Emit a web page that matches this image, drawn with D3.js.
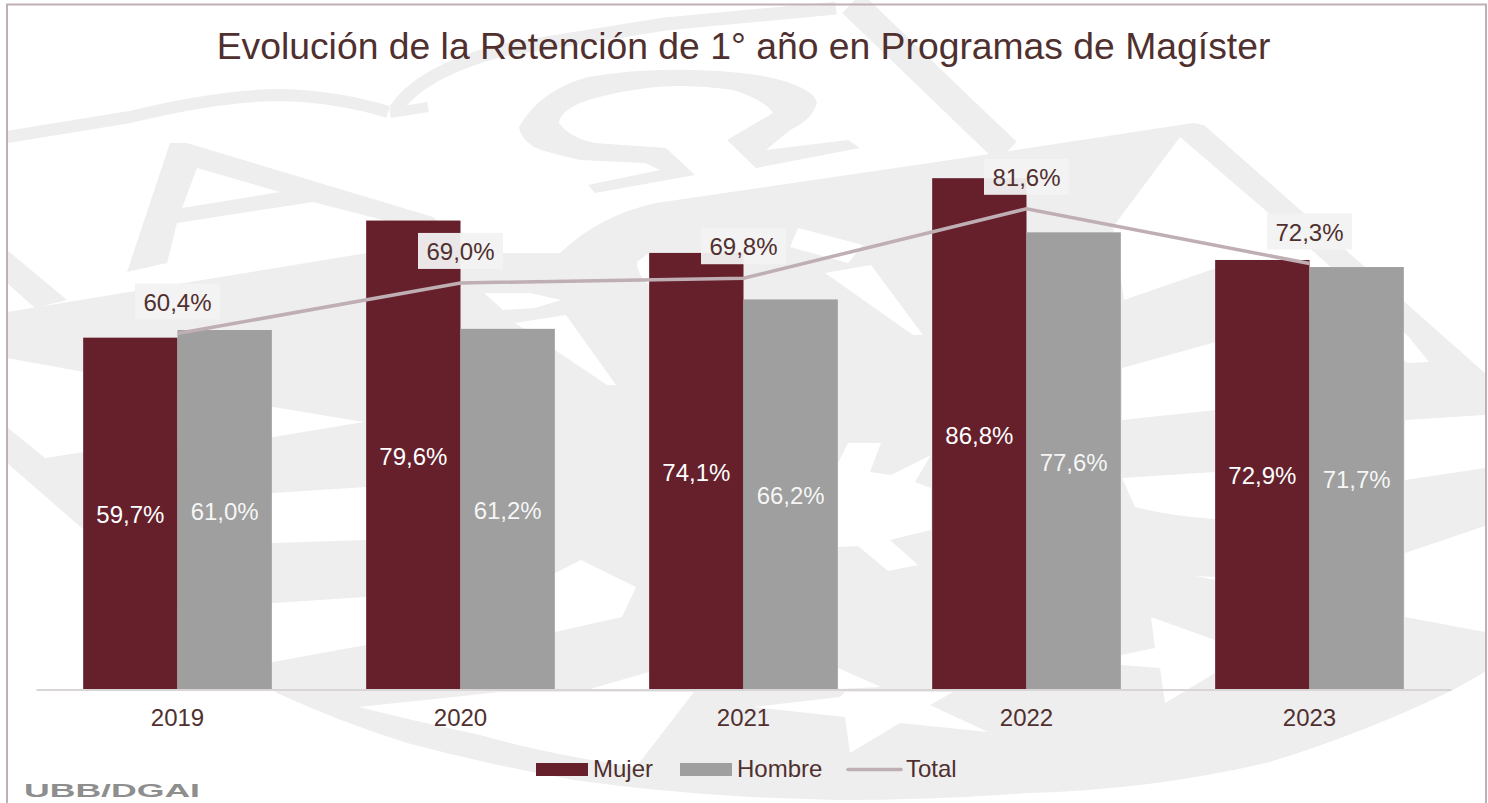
<!DOCTYPE html>
<html><head><meta charset="utf-8">
<script src="https://cdn.jsdelivr.net/npm/d3@7/dist/d3.min.js"></script>
<style>html,body{margin:0;padding:0;background:#fff}svg{display:block}text{font-family:"Liberation Sans",Arial,sans-serif}</style>
</head><body><svg id="c" width="1488" height="803"></svg>
<script>
const years = ["2019","2020","2021","2022","2023"];
const mujer = [59.7,79.6,74.1,86.8,72.9];
const hombre = [61.0,61.2,66.2,77.6,71.7];
const total = [60.4,69.0,69.8,81.6,72.3];
const seriesNames = ["Mujer","Hombre","Total"];
const titleText = "Evolución de la Retención de 1° año en Programas de Magíster";

const INK="#50302F", MAROON="#65202C", GREY="#9E9F9E", LINE="#BFAEB4", WM="#EEEEEE";
const svg=d3.select("#c");
const fmt=v=>v.toFixed(1).replace(".",",")+"%";

// faint background seal (decorative)
const wm=svg.append("g");
const grayFill=[
"M7,312 L367,253 L560,253 Q600,215 656,203 L950,160 L1193,123 L1204,125 L1408,305 L1485,373 L1485,672 L1453,690 Q1360,735 1266,763 Q1150,790 1027,793 Q930,800 836,800 L750,797 Q660,792 574,780 Q490,765 407,743 Q340,722 277,693 L84,530 L7,463 Z",
"M7,250 L67,300 L35,308 L7,283 Z",
"M170,143 L187,143 L433,217 L460,240 L313,202 L177,223 L167,263 L127,272 Z",
"M519,127 Q540,90 588,77 Q640,68 695,70 Q760,72 790,83 Q815,92 817,103 Q812,120 790,130 L766,150 L848,140 L860,148 L756,168 L727,140 L773,113 Q765,100 733,90 Q690,84 656,87 Q610,92 580,103 Q560,112 559,123 Q570,138 595,143 L666,148 L695,175 L595,193 L588,185 L660,170 L645,163 L580,160 Q545,152 534,147 Q520,138 519,127 Z",
];
wm.selectAll("path.g").data(grayFill).join("path").attr("class","g").attr("d",d=>d).attr("fill",WM);
wm.append("path").attr("d","M197,168 L280,192 L182,208 Z").attr("fill","#fff");
const bands=[
 {d:"M7,137 L130,117 Q220,95 283,95 Q340,97 388,112",w:12},
 {d:"M390,113 L428,107",w:10},
 {d:"M395,110 Q420,72 502,50 L665,24 L836,8",w:13},
 {d:"M852,3 L963,110 L1007,152",w:28},
];
wm.selectAll("path.b").data(bands).join("path").attr("class","b").attr("d",d=>d.d).attr("fill","none").attr("stroke",WM).attr("stroke-width",d=>d.w);
const whites=[
"M7,358 L84,372 L273,407 L364,422 L273,437 L200,445 L84,452 L45,458 L7,427 Z",
"M180,500 L273,493 L366,487 L366,540 L273,543 L180,545 Z",
"M200,608 L273,603 L366,597 L366,645 L273,662 L200,662 Z",
"M484,293 L530,293 L561,300 L535,308 L503,310 Z",
"M515,323 L566,315 L616,385 L607,385 L555,350 Z",
"M500,590 L555,573 L581,560 L636,587 L622,617 L555,632 L500,640 Z",
"M649,672 L649,689 L590,689 Z",
"M637,262 L649,253 L649,285 Q637,275 637,262 Z",
"M798,228 L863,245 L848,263 L790,247 Z",
"M825,273 L871,265 L923,335 L913,335 Z",
"M838,463 L848,443 L881,443 L870,472 L891,475 L931,455 L915,482 L931,488 L931,530 L906,536 L890,540 L918,565 L888,571 L858,546 L838,547 Z",
"M838,668 L881,687 L838,689 Z",
"M1113,227 L1180,137 L1314,252 L1408,336 L1429,362 L1408,363 L1310,310 L1219,267 L1124,300 Z",
"M1122,368 L1216,342 L1216,410 L1122,420 Z",
"M1122,478 L1215,472 L1215,519 Q1170,516 1135,507 Z",
"M1196,576 L1215,580 L1215,577 Z",
"M1151,617 L1215,640 L1215,673 L1165,703 L1160,668 L1121,665 L1121,655 L1155,648 Z",
"M1405,420 L1485,415 L1485,468 L1405,480 Z",
"M1405,553 L1485,526 L1485,632 L1405,617 Z",
"M359,707 L500,692 L694,692 L636,767 Q550,755 480,735 Q410,720 359,707 Z",
"M754,707 L840,697 L845,692 L953,692 L930,705 L988,732 L900,723 L850,753 L845,717 Z",
];
wm.selectAll("path.w").data(whites).join("path").attr("class","w").attr("d",d=>d).attr("fill","#fff");

// frame
svg.append("path").attr("d","M7,803 L7,4.5 L1486,4.5 L1486,803").attr("fill","none").attr("stroke","#BFB0B6").attr("stroke-width",2);

// scales
const x=d3.scaleBand().domain(years).range([36,1451]).paddingInner(0.3333).paddingOuter(0.1667);
const xs=d3.scaleBand().domain(["Mujer","Hombre"]).range([0,x.bandwidth()]);
const y=d3.scaleLinear().domain([0,100]).range([689,100.5]);

const barData=years.map((yr,i)=>[{yr,s:"Mujer",v:mujer[i]},{yr,s:"Hombre",v:hombre[i]}]).flat();
svg.append("g").selectAll("rect").data(barData).join("rect")
 .attr("x",d=>x(d.yr)+xs(d.s)).attr("width",xs.bandwidth())
 .attr("y",d=>y(d.v)).attr("height",d=>y(0)-y(d.v))
 .attr("fill",d=>d.s==="Mujer"?MAROON:GREY);

// axis
const ax=svg.append("g").attr("transform","translate(0,689.5)").call(d3.axisBottom(x).tickSize(0).tickPadding(19.5));
ax.select(".domain").attr("stroke","#D9D5D6").attr("stroke-width",2);
ax.selectAll("text").attr("font-size",24).attr("fill",INK).attr("font-family","Liberation Sans");

// total line
const cx=yr=>x(yr)+x.bandwidth()/2;
svg.append("path").attr("d",d3.line().x((d,i)=>cx(years[i])).y(d=>y(d))(total))
 .attr("fill","none").attr("stroke",LINE).attr("stroke-width",3.5);

// bar labels
svg.append("g").selectAll("text").data(barData).join("text")
 .attr("x",d=>x(d.yr)+xs(d.s)+xs.bandwidth()/2).attr("y",d=>(y(d.v)+y(0))/2)
 .attr("dy",10).attr("text-anchor","middle").attr("font-size",24).attr("fill","#fff")
 .attr("fill-opacity",d=>d.s==="Mujer"?1:.92).text(d=>fmt(d.v));

// total labels
const tl=svg.append("g").selectAll("g").data(total).join("g")
 .attr("transform",(d,i)=>`translate(${cx(years[i])},${y(d)-32})`);
tl.append("rect").attr("x",-42.5).attr("y",-18).attr("width",85).attr("height",36).attr("fill","#F2F2F2").attr("fill-opacity",.95);
tl.append("text").attr("text-anchor","middle").attr("dy",9).attr("font-size",24).attr("fill",INK).text(d=>fmt(d));

// title
svg.append("text").attr("x",743.5).attr("y",59).attr("text-anchor","middle").attr("font-size",37.3).attr("fill",INK).text(titleText);

// legend
const lg=svg.append("g");
const swatches=[{n:seriesNames[0],x:536,c:MAROON},{n:seriesNames[1],x:680,c:GREY}];
lg.selectAll("rect").data(swatches).join("rect").attr("x",d=>d.x).attr("y",763).attr("width",52).attr("height",13).attr("fill",d=>d.c);
lg.append("line").attr("x1",848).attr("x2",901).attr("y1",769.5).attr("y2",769.5).attr("stroke",LINE).attr("stroke-width",3.5).attr("stroke-linecap","round");
const legText=[{n:seriesNames[0],x:593},{n:seriesNames[1],x:737},{n:seriesNames[2],x:906}];
lg.selectAll("text").data(legText).join("text").attr("x",d=>d.x).attr("y",777).attr("font-size",24).attr("fill",INK).text(d=>d.n);

// footer
svg.append("text").attr("x",24).attr("y",797).attr("font-size",18).attr("font-weight","bold").attr("fill","#8E8E8E")
 .attr("textLength",176).attr("lengthAdjust","spacingAndGlyphs").text("UBB/DGAI");
</script></body></html>
